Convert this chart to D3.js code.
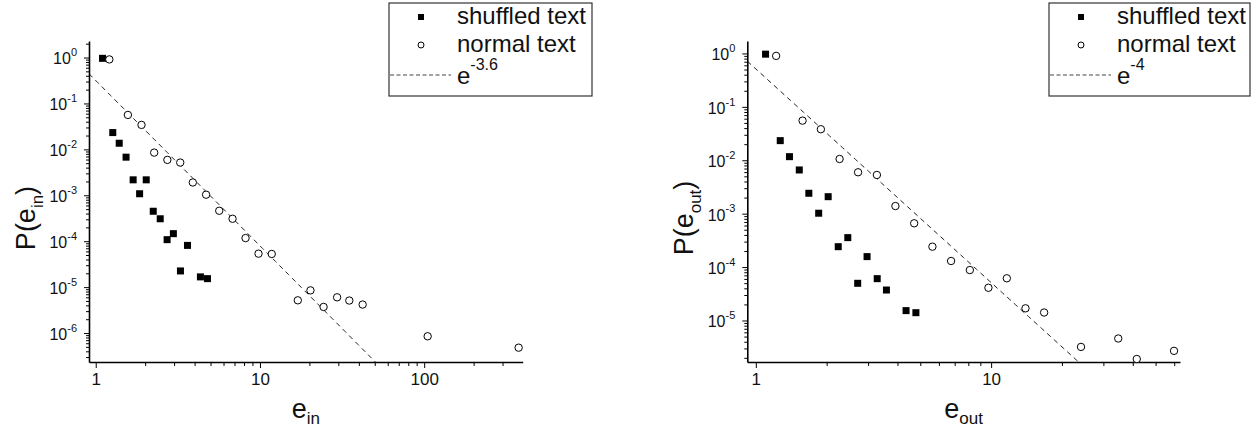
<!DOCTYPE html>
<html>
<head>
<meta charset="utf-8">
<script src="https://cdn.jsdelivr.net/npm/d3@7"></script>
<style>
  html, body { margin: 0; padding: 0; background: #fff; }
  svg { display: block; font-family: Arial, "Liberation Sans", Helvetica, sans-serif; }
</style>
</head>
<body>
<svg id="chart" width="1259" height="432"></svg>
<script>
// ---------- data ----------
const legendLabels = ["shuffled text", "normal text"];

// left panel: in-degree e_in
const inShuffledX = [1.10, 1.27, 1.39, 1.53, 1.69, 1.85, 2.03, 2.24, 2.47, 2.72, 2.97, 3.28, 3.62, 4.34, 4.79];
const inShuffledP = [0.96, 0.0232, 0.0136, 0.00676, 0.00217, 0.00108, 0.00217, 0.000449, 0.000308, 0.000108, 0.000146, 2.25e-5, 8.1e-5, 1.67e-5, 1.53e-5];
const inNormalX = [1.21, 1.57, 1.90, 2.27, 2.73, 3.27, 3.90, 4.70, 5.65, 6.81, 8.17, 9.80, 11.8, 17.0, 20.3, 24.4, 29.5, 35.0, 42.2, 105, 376];
const inNormalP = [0.91, 0.0562, 0.0341, 0.0085, 0.0059, 0.00516, 0.0019, 0.00103, 0.00046, 0.000308, 0.000117, 5.35e-5, 5.27e-5, 5.16e-6, 8.5e-6, 3.7e-6, 6.0e-6, 5.1e-6, 4.17e-6, 8.5e-7, 4.8e-7];
const inFitExponent = -3.6;
const inFitCoef = 0.316;
const inXTicks = [1, 10, 100];
const inYTicks = [1, 1e-1, 1e-2, 1e-3, 1e-4, 1e-5, 1e-6];

// right panel: out-degree e_out
const outShuffledX = [1.10, 1.27, 1.39, 1.53, 1.68, 1.85, 2.03, 2.24, 2.46, 2.71, 2.97, 3.28, 3.59, 4.35, 4.79];
const outShuffledP = [0.97, 0.0233, 0.01168, 0.00658, 0.00241, 0.00102, 0.00208, 0.000241, 0.000356, 4.97e-5, 0.000157, 6.07e-5, 3.72e-5, 1.53e-5, 1.40e-5];
const outNormalX = [1.22, 1.58, 1.89, 2.27, 2.72, 3.27, 3.92, 4.71, 5.63, 6.76, 8.12, 9.74, 11.66, 14.0, 16.8, 24.1, 34.7, 41.6, 59.9];
const outNormalP = [0.90, 0.0552, 0.0381, 0.01057, 0.00596, 0.00531, 0.00139, 0.00066, 0.000241, 0.00013, 8.8e-5, 4.1e-5, 6.17e-5, 1.69e-5, 1.41e-5, 3.2e-6, 4.6e-6, 1.9e-6, 2.7e-6];
const outFitExponent = -4;
const outFitCoef = 0.513;
const outXTicks = [1, 10];
const outYTicks = [1, 1e-1, 1e-2, 1e-3, 1e-4, 1e-5];

// ---------- panels ----------
const panels = [
  {
    sub: "in", fitLabel: "-3.6",
    xDomain: [0.91, 398], yDomain: [2.34e-7, 2.29],
    xRange: [89, 522.7], yRange: [362, 41],
    shX: inShuffledX, shP: inShuffledP, nX: inNormalX, nP: inNormalP,
    fitExp: inFitExponent, fitCoef: inFitCoef,
    xTicks: inXTicks, yTicks: inYTicks,
    legend: { x: 389, y: 3, w: 203, h: 93 }
  },
  {
    sub: "out", fitLabel: "-4",
    xDomain: [0.92, 63.5], yDomain: [1.67e-6, 1.71],
    xRange: [747.3, 1180], yRange: [362, 41],
    shX: outShuffledX, shP: outShuffledP, nX: outNormalX, nP: outNormalP,
    fitExp: outFitExponent, fitCoef: outFitCoef,
    xTicks: outXTicks, yTicks: outYTicks,
    legend: { x: 1049, y: 3, w: 201, h: 93 }
  }
];

const svg = d3.select("#chart");

function minorTicks(domain, majors) {
  const out = [];
  const lo = Math.floor(Math.log10(domain[0])), hi = Math.ceil(Math.log10(domain[1]));
  for (let k = lo; k <= hi; k++) {
    for (let d = 1; d <= 9; d++) {
      const v = d * Math.pow(10, k);
      if (v >= domain[0] && v <= domain[1] && !majors.some(m => Math.abs(m - v) / v < 1e-9)) out.push(v);
    }
  }
  return out;
}

panels.forEach((p, i) => {
  const g = svg.append("g");
  const x = d3.scaleLog().domain(p.xDomain).range(p.xRange);
  const y = d3.scaleLog().domain(p.yDomain).range(p.yRange);

  const clipId = "clip" + i;
  svg.append("clipPath").attr("id", clipId).append("rect")
    .attr("x", p.xRange[0]).attr("y", p.yRange[1])
    .attr("width", p.xRange[1] - p.xRange[0]).attr("height", p.yRange[0] - p.yRange[1]);

  // fit line
  const fitPts = d3.range(0, 101).map(t => {
    const lx = Math.log10(p.xDomain[0]) + t / 100 * (Math.log10(p.xDomain[1]) - Math.log10(p.xDomain[0]));
    const xv = Math.pow(10, lx);
    return [xv, p.fitCoef * Math.pow(xv, p.fitExp)];
  }).filter(d => d[1] >= p.yDomain[0] * 0.5);
  g.append("path")
    .attr("clip-path", `url(#${clipId})`)
    .attr("d", d3.line().x(d => x(d[0])).y(d => y(Math.max(d[1], 1e-12)))(fitPts))
    .attr("fill", "none").attr("stroke", "#222").attr("stroke-width", 1)
    .attr("stroke-dasharray", "5,4");

  // axes
  const yMinor = minorTicks(p.yDomain, p.yTicks);
  const xMinor = minorTicks(p.xDomain, p.xTicks);

  const yAxisMinor = g.append("g").attr("transform", `translate(${p.xRange[0]},0)`)
    .call(d3.axisLeft(y).tickValues(yMinor).tickSize(3).tickSizeOuter(0).tickFormat(() => ""));
  yAxisMinor.select(".domain").remove();
  const yAxis = g.append("g").attr("transform", `translate(${p.xRange[0]},0)`)
    .call(d3.axisLeft(y).tickValues(p.yTicks).tickSize(5).tickSizeOuter(0).tickPadding(7));
  yAxis.selectAll(".tick text").each(function (d) {
    const t = d3.select(this);
    const exp = Math.round(Math.log10(d));
    t.text(null).attr("font-size", 16).attr("fill", "#111").attr("dy", "0.4em");
    t.append("tspan").text("10");
    t.append("tspan").text(String(exp)).attr("font-size", 11).attr("dy", "-0.75em");
  });

  const xAxisMinor = g.append("g").attr("transform", `translate(0,${p.yRange[0]})`)
    .call(d3.axisBottom(x).tickValues(xMinor).tickSize(4).tickSizeOuter(0).tickFormat(() => ""));
  xAxisMinor.select(".domain").remove();
  const xAxis = g.append("g").attr("transform", `translate(0,${p.yRange[0]})`)
    .call(d3.axisBottom(x).tickValues(p.xTicks).tickSize(6).tickSizeOuter(0).tickPadding(5)
      .tickFormat(d3.format("d")));
  xAxis.selectAll(".tick text").attr("font-size", 17).attr("fill", "#111");

  [yAxis, xAxis].forEach(a => a.select(".domain").attr("stroke", "#000").attr("stroke-width", 1.6));
  g.selectAll(".tick line").attr("stroke", "#000").attr("stroke-width", 1);

  // points: shuffled (filled squares)
  const sq = 7;
  g.append("g").selectAll("rect").data(p.shX.map((v, k) => [v, p.shP[k]])).join("rect")
    .attr("x", d => x(d[0]) - sq / 2).attr("y", d => y(d[1]) - sq / 2)
    .attr("width", sq).attr("height", sq).attr("fill", "#000");
  // normal (open circles)
  g.append("g").selectAll("circle").data(p.nX.map((v, k) => [v, p.nP[k]])).join("circle")
    .attr("cx", d => x(d[0])).attr("cy", d => y(d[1])).attr("r", 3.7)
    .attr("fill", "#fff").attr("stroke", "#000").attr("stroke-width", 1);

  // axis titles
  const xMid = (p.xRange[0] + p.xRange[1]) / 2;
  const xt = g.append("text").attr("x", xMid).attr("y", 418).attr("text-anchor", "middle")
    .attr("font-size", 27).attr("fill", "#111");
  xt.append("tspan").text("e");
  xt.append("tspan").text(p.sub).attr("font-size", 17).attr("dy", "0.35em");

  const yt = g.append("text")
    .attr("transform", `translate(${p.xRange[0] - 54},218) rotate(-90)`)
    .attr("text-anchor", "middle").attr("font-size", 27).attr("fill", "#111");
  yt.append("tspan").text("P(e");
  yt.append("tspan").text(p.sub).attr("font-size", 17).attr("dy", "0.45em");
  yt.append("tspan").text(")").attr("dy", "-0.28em");

  // legend
  const L = p.legend;
  const lg = g.append("g");
  lg.append("rect").attr("x", L.x).attr("y", L.y).attr("width", L.w).attr("height", L.h)
    .attr("fill", "#fff").attr("stroke", "#333").attr("stroke-width", 1.2);
  const mx = L.x + 32, tx = L.x + 68;
  lg.append("rect").attr("x", mx - 3).attr("y", L.y + 14 - 3).attr("width", 6).attr("height", 6).attr("fill", "#000");
  lg.append("text").attr("x", tx).attr("y", L.y + 21).attr("font-size", 24).attr("fill", "#111").text(legendLabels[0]);
  lg.append("circle").attr("cx", mx).attr("cy", L.y + 42).attr("r", 3).attr("fill", "#fff").attr("stroke", "#000").attr("stroke-width", 1);
  lg.append("text").attr("x", tx).attr("y", L.y + 49).attr("font-size", 24).attr("fill", "#111").text(legendLabels[1]);
  lg.append("line").attr("x1", L.x + 1).attr("x2", L.x + 62).attr("y1", L.y + 72).attr("y2", L.y + 72)
    .attr("stroke", "#444").attr("stroke-width", 1).attr("stroke-dasharray", "4,2.5");
  const ft = lg.append("text").attr("x", tx).attr("y", L.y + 81).attr("font-size", 24).attr("fill", "#111");
  ft.append("tspan").text("e");
  ft.append("tspan").text(p.fitLabel).attr("font-size", 16).attr("dy", "-0.85em");
});
</script>
</body>
</html>
